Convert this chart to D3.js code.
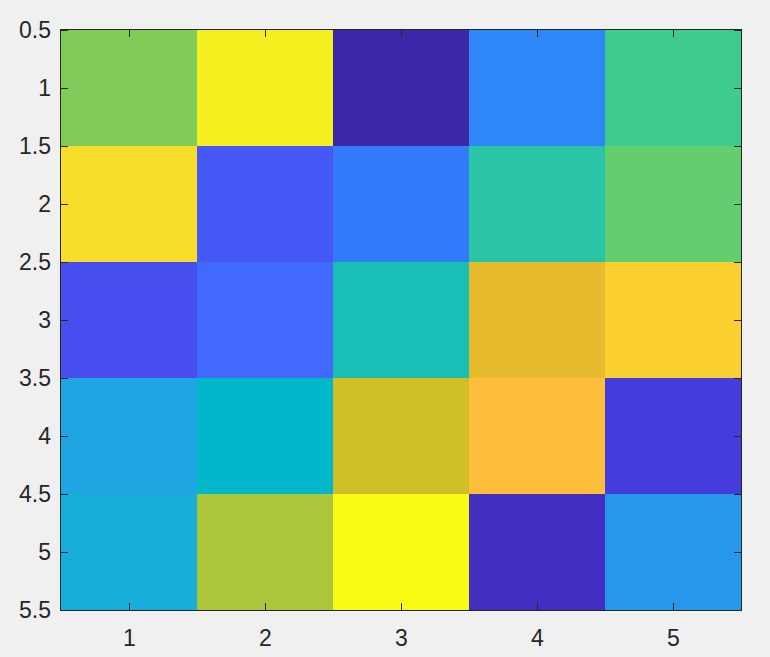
<!DOCTYPE html>
<html>
<head>
<meta charset="utf-8">
<script src="https://cdn.jsdelivr.net/npm/d3@7"></script>
<style>
  html, body { margin: 0; padding: 0; background: #f0f0f0; }
  svg { display: block; }
  .tick text { font-family: "Liberation Sans", Arial, Helvetica, sans-serif; font-size: 23px; fill: #262626; }
</style>
</head>
<body>
<svg id="chart" width="770" height="657"></svg>
<script>
// Data (magic(5) shown with imagesc)
const columns = [1, 2, 3, 4, 5];
const rows = [1, 2, 3, 4, 5];
const row1 = [17, 24, 1, 8, 15];
const row2 = [23, 5, 7, 14, 16];
const row3 = [4, 6, 13, 20, 22];
const row4 = [10, 12, 19, 21, 3];
const row5 = [11, 18, 25, 2, 9];
const matrix = [row1, row2, row3, row4, row5];
const xTickValues = [1, 2, 3, 4, 5];
const yTickValues = [0.5, 1, 1.5, 2, 2.5, 3, 3.5, 4, 4.5, 5, 5.5];

// parula colormap (64 entries)
const parula = [
[0.2422,0.1504,0.6603],[0.2504,0.1650,0.7076],[0.2578,0.1818,0.7511],[0.2647,0.1978,0.7952],
[0.2706,0.2147,0.8364],[0.2751,0.2342,0.8710],[0.2783,0.2559,0.8991],[0.2803,0.2782,0.9221],
[0.2813,0.3006,0.9414],[0.2810,0.3228,0.9579],[0.2795,0.3447,0.9717],[0.2760,0.3667,0.9829],
[0.2699,0.3892,0.9906],[0.2602,0.4123,0.9952],[0.2440,0.4358,0.9988],[0.2206,0.4603,0.9973],
[0.1963,0.4847,0.9892],[0.1834,0.5074,0.9798],[0.1786,0.5289,0.9682],[0.1764,0.5499,0.9520],
[0.1687,0.5703,0.9359],[0.1540,0.5902,0.9218],[0.1460,0.6091,0.9079],[0.1380,0.6276,0.8973],
[0.1248,0.6459,0.8883],[0.1113,0.6635,0.8763],[0.0952,0.6798,0.8598],[0.0689,0.6948,0.8394],
[0.0297,0.7082,0.8163],[0.0036,0.7203,0.7917],[0.0067,0.7312,0.7660],[0.0433,0.7411,0.7394],
[0.0964,0.7500,0.7120],[0.1408,0.7584,0.6842],[0.1717,0.7670,0.6554],[0.1938,0.7758,0.6251],
[0.2161,0.7843,0.5923],[0.2470,0.7918,0.5567],[0.2906,0.7973,0.5188],[0.3406,0.8008,0.4789],
[0.3909,0.8029,0.4354],[0.4456,0.8024,0.3909],[0.5044,0.7993,0.3480],[0.5616,0.7942,0.3045],
[0.6174,0.7876,0.2612],[0.6720,0.7793,0.2227],[0.7242,0.7698,0.1910],[0.7738,0.7598,0.1646],
[0.8203,0.7498,0.1535],[0.8634,0.7406,0.1596],[0.9035,0.7330,0.1774],[0.9393,0.7288,0.2100],
[0.9728,0.7298,0.2394],[0.9956,0.7434,0.2371],[0.9970,0.7659,0.2199],[0.9952,0.7893,0.2028],
[0.9892,0.8136,0.1885],[0.9786,0.8386,0.1766],[0.9676,0.8639,0.1643],[0.9610,0.8890,0.1537],
[0.9597,0.9135,0.1423],[0.9628,0.9373,0.1265],[0.9691,0.9606,0.1064],[0.9769,0.9839,0.0805]
].map(c => d3.rgb(c[0]*255, c[1]*255, c[2]*255).formatHex());

const svg = d3.select("#chart");
const plotLeft = 61, plotRight = 741, plotTop = 30, plotBottom = 610;

const x = d3.scaleLinear().domain([0.5, 5.5]).range([plotLeft, plotRight]);
const y = d3.scaleLinear().domain([0.5, 5.5]).range([plotTop, plotBottom]);
const allVals = matrix.flat();
const color = d3.scaleQuantize().domain([d3.min(allVals), d3.max(allVals)]).range(parula);

const cells = [];
rows.forEach((r, i) => columns.forEach((c, j) => cells.push({ r, c, v: matrix[i][j] })));

svg.append("g").selectAll("rect").data(cells).join("rect")
  .attr("x", d => x(d.c - 0.5))
  .attr("y", d => y(d.r - 0.5))
  .attr("width", d => x(d.c + 0.5) - x(d.c - 0.5))
  .attr("height", d => y(d.r + 0.5) - y(d.r - 0.5))
  .attr("fill", d => color(d.v))
  .attr("shape-rendering", "crispEdges");

const fmt = d3.format("~g");
const tl = 7;

function styleAxis(g) {
  g.select(".domain").remove();
  g.selectAll(".tick line").attr("stroke", "#262626").attr("shape-rendering", "crispEdges");
}

svg.append("g").attr("transform", `translate(0,${plotBottom})`)
  .call(d3.axisBottom(x).tickValues(xTickValues).tickFormat(fmt).tickSizeInner(-tl).tickSizeOuter(0).tickPadding(20))
  .call(styleAxis);
svg.append("g").attr("transform", `translate(0,${plotTop})`)
  .call(d3.axisTop(x).tickValues(xTickValues).tickFormat("").tickSizeInner(-tl).tickSizeOuter(0))
  .call(styleAxis);
svg.append("g").attr("transform", `translate(${plotLeft},0)`)
  .call(d3.axisLeft(y).tickValues(yTickValues).tickFormat(fmt).tickSizeInner(-tl).tickSizeOuter(0).tickPadding(10))
  .call(styleAxis);
svg.append("g").attr("transform", `translate(${plotRight},0)`)
  .call(d3.axisRight(y).tickValues(yTickValues).tickFormat("").tickSizeInner(-tl).tickSizeOuter(0))
  .call(styleAxis);

svg.selectAll(".tick text").attr("fill", "#262626");

svg.append("rect")
  .attr("x", plotLeft - 0.5).attr("y", plotTop - 0.5)
  .attr("width", plotRight - plotLeft + 1).attr("height", plotBottom - plotTop + 1)
  .attr("fill", "none").attr("stroke", "#262626").attr("stroke-width", 1);
</script>
</body>
</html>
